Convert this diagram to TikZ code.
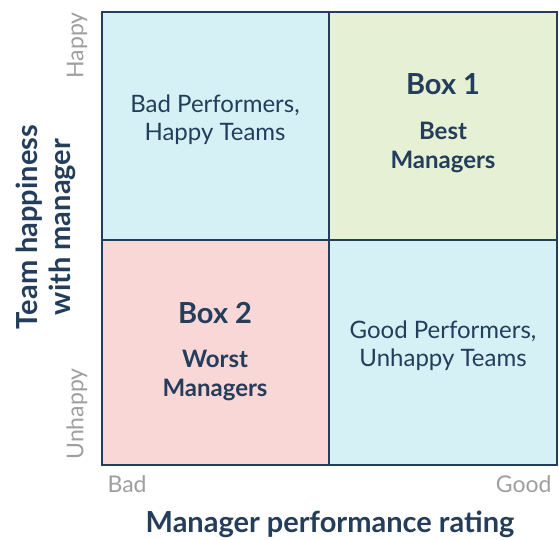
\documentclass[tikz,border=0pt]{standalone}
\usepackage{fontspec}
\setmainfont{Lato}
\begin{document}
\begin{tikzpicture}[x=1pt,y=-1pt,
  quad/.style={draw=navy,line width=2.5pt},
  celltext/.style={text=navy,font=\fontsize{24}{28}\selectfont,align=center},
  boxtitle/.style={text=navy,font=\fontsize{29}{30}\selectfont\bfseries},
  boxsub/.style={text=navy,font=\fontsize{24}{29}\selectfont\bfseries,align=center},
  axislab/.style={text=gray!75,font=\fontsize{23}{24}\selectfont},
  axistitle/.style={text=navy,font=\fontsize{29}{33}\selectfont\bfseries,align=center}]
\definecolor{navy}{HTML}{233D5B}
\definecolor{qblue}{HTML}{D5F1F6}
\definecolor{qgreen}{HTML}{E6F0D4}
\definecolor{qpink}{HTML}{F8D7D6}
\useasboundingbox (0,0) rectangle (559,540);
\fill[white] (0,0) rectangle (559,540);
% quadrants
\path[fill=qblue] (102,12) rectangle (329,240);
\path[fill=qgreen] (329,12) rectangle (557,240);
\path[fill=qpink] (102,240) rectangle (329,465);
\path[fill=qblue] (329,240) rectangle (557,465);
\draw[quad] (102,12) rectangle (557,465);
\draw[quad] (329,12) -- (329,465);
\draw[quad] (102,240) -- (557,240);
% texts
\node[celltext] (tl) at (215,120) {Bad Performers,\\Happy Teams};
\node[boxtitle] (b1) at (443,84) {Box 1};
\node[boxsub] (b1s) at (443,147) {Best\\Managers};
\node[boxtitle] (b2) at (215,313) {Box 2};
\node[boxsub] (b2s) at (215,375) {Worst\\Managers};
\node[celltext] (br) at (443,346) {Good Performers,\\Unhappy Teams};
% axes
\node[axislab,anchor=west] (bad) at (104,484) {Bad};
\node[axislab,anchor=east] (good) at (555,484) {Good};
\node[axistitle] (xt) at (330,524) {Manager performance rating};
\node[axislab,rotate=90,anchor=east] (happy) at (77,9) {Happy};
\node[axislab,rotate=90,anchor=west] (unhappy) at (77,463) {Unhappy};
\node[axistitle,rotate=90] (yt) at (46,227) {Team happiness\\with manager};
\end{tikzpicture}
\end{document}
